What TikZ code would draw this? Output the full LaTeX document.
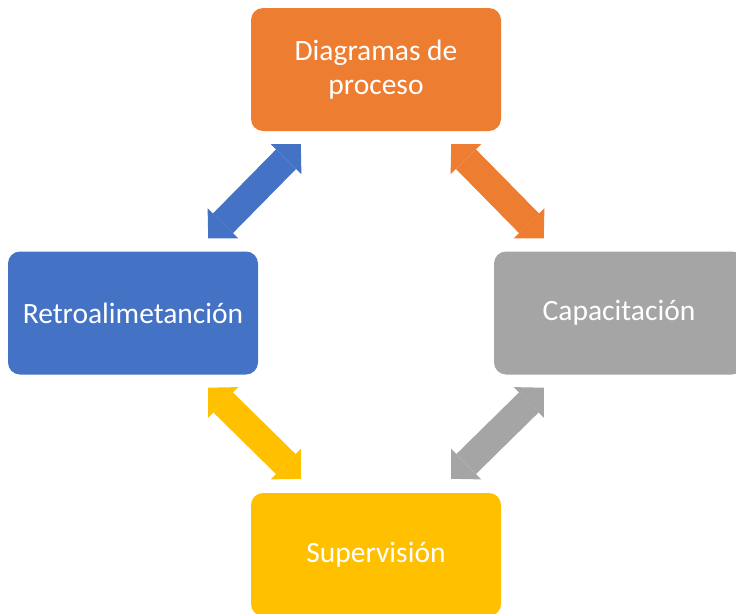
\documentclass[tikz,border=0pt]{standalone}
\usepackage{fontspec}
\setmainfont{Carlito}
\usetikzlibrary{arrows.meta,calc}
\definecolor{cOrange}{HTML}{ED7D31}
\definecolor{cBlue}{HTML}{4472C4}
\definecolor{cGray}{HTML}{A5A5A5}
\definecolor{cYellow}{HTML}{FFC000}
\begin{document}
\begin{tikzpicture}[x=1pt,y=-1pt,
  box/.style={rectangle, rounded corners=12pt, minimum width=250pt, minimum height=123pt,
    text=white, font=\fontsize{29.5}{34}\selectfont, align=center, inner sep=0pt},
  dblarrow/.style={line width=28pt,
    {Triangle[length=21pt,width=43pt,line width=0pt]}-{Triangle[length=21pt,width=43pt,line width=0pt]}}]
\useasboundingbox (0,0) rectangle (736,613);
\clip (0,0) rectangle (736,613);
\node[box, fill=cOrange] (top) at (376,69.5) {Diagramas de\\proceso};
\node[box, fill=cBlue] (left) at (133,313) {Retroalimetanción};
\node[box, fill=cGray] (right) at (619,313) {Capacitación};
\node[box, fill=cYellow] (bottom) at (376,554.5) {Supervisión};
\draw[dblarrow, cBlue] ($(left.north east)+(-50,-13)$) -- ($(top.south west)+(50,13)$);
\draw[dblarrow, cOrange] ($(top.south east)+(-50,13)$) -- ($(right.north west)+(50,-13)$);
\draw[dblarrow, cYellow] ($(left.south east)+(-50,13)$) -- ($(bottom.north west)+(50,-14)$);
\draw[dblarrow, cGray] ($(right.south west)+(50,13)$) -- ($(bottom.north east)+(-50,-14)$);
\end{tikzpicture}
\end{document}
